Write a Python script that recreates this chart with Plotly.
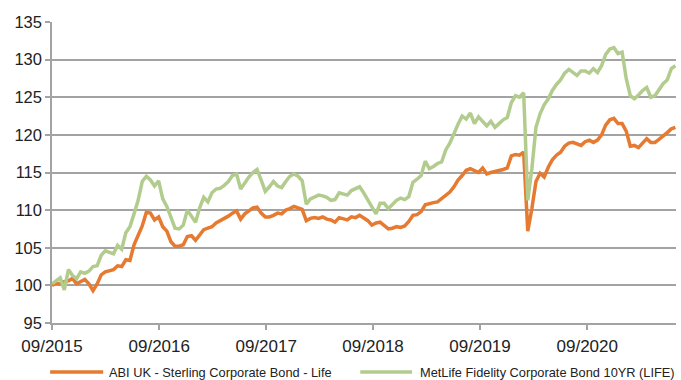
import pandas as pd
import plotly.graph_objects as go

# Fortnightly index values (base 100 at September 2015)
start_date = "2015-09-01"

abi_values = [
    100.0, 100.3, 100.2, 100.5, 100.6, 100.9, 100.2, 100.5, 100.8, 100.2,
    99.3, 100.2, 101.4, 101.8, 102.0, 102.1, 102.6, 102.5, 103.4, 103.3,
    105.4, 106.8, 107.9, 109.7, 109.6, 108.7, 109.1, 107.8, 107.2, 105.8,
    105.2, 105.2, 105.4, 106.5, 106.6, 106.0, 106.8, 107.4, 107.6, 107.8,
    108.3, 108.6, 108.8, 109.2, 109.6, 109.9, 108.8, 109.5, 109.9, 110.3,
    110.4, 109.6, 109.1, 109.1, 109.3, 109.6, 109.5, 110.0, 110.2, 110.5,
    110.3, 110.1, 108.6, 108.9, 109.0, 108.9, 109.1, 108.8, 108.7, 108.4,
    109.0, 108.8, 108.7, 109.1, 109.0, 109.3, 109.0, 108.6, 108.0, 108.3,
    108.4, 107.9, 107.5, 107.6, 107.8, 107.7, 107.9, 108.5, 109.3, 109.4,
    109.8, 110.7, 110.9, 111.0, 111.1, 111.5, 111.9, 112.4, 113.1, 114.0,
    114.6, 115.3, 115.5, 115.3, 115.0, 115.6, 114.8, 115.0, 115.1, 115.3,
    115.4, 115.6, 117.2, 117.4, 117.3, 117.7, 107.2, 110.2, 113.8, 114.9,
    114.4, 115.7, 116.7, 117.3, 117.7, 118.5, 118.9, 119.0, 118.8, 118.6,
    119.1, 119.3, 119.0, 119.3, 120.0, 121.3, 122.0, 122.2, 121.5, 121.5,
    120.5, 118.5, 118.6, 118.3, 118.9, 119.5, 119.0, 119.0, 119.4, 119.8,
    120.3, 120.8, 121.0,
]

metlife_values = [
    100.2, 100.6, 101.0, 99.4, 102.1, 101.3, 100.9, 101.8, 101.6, 101.9,
    102.5, 102.6, 104.0, 104.6, 104.4, 104.2, 105.3, 104.8, 107.0, 107.8,
    109.5, 111.3, 113.8, 114.5, 114.0, 113.2, 113.9, 111.5, 110.5, 108.9,
    107.6, 107.5, 108.0, 110.0, 109.2, 108.4, 110.3, 111.7, 111.1, 112.3,
    112.8, 112.9, 113.3, 113.8, 114.6, 114.8, 112.8, 113.7, 114.4, 115.0,
    115.4, 114.0, 112.5, 113.1, 113.8, 113.2, 113.0, 113.8, 114.5, 114.8,
    114.5, 113.9, 110.8, 111.5, 111.8, 112.0, 111.9, 111.7, 111.3, 111.4,
    112.3, 112.2, 112.0, 112.6, 112.8, 113.1, 112.3, 111.4, 110.5, 109.5,
    110.9, 110.9, 110.2, 110.8, 111.3, 111.6, 111.4, 111.8, 113.7, 114.1,
    114.6, 116.5, 115.5, 115.8, 116.2, 116.4, 118.0, 118.9, 120.3, 121.4,
    122.5, 122.1, 122.9, 121.5, 122.4, 121.8, 121.2, 121.8, 121.0, 121.5,
    122.0, 122.3, 124.3, 125.2, 125.0, 125.6, 111.3, 115.5, 121.0, 122.8,
    124.0, 124.8, 125.9, 126.7, 127.3, 128.2, 128.7, 128.3, 127.9, 128.5,
    128.5, 128.2, 128.8, 128.3, 129.2, 130.7, 131.4, 131.6, 130.8, 131.0,
    127.5, 125.2, 124.8, 125.3, 125.9, 126.3, 125.0, 125.2, 126.0, 126.8,
    127.3, 128.8, 129.2,
]

dates = pd.date_range(start_date, periods=len(abi_values), freq="14D")

tick_dates = ["2015-09-01", "2016-09-01", "2017-09-01",
              "2018-09-01", "2019-09-01", "2020-09-01"]
tick_labels = ["09/2015", "09/2016", "09/2017", "09/2018", "09/2019", "09/2020"]

series_names = ["ABI UK - Sterling Corporate Bond - Life",
                "MetLife Fidelity Corporate Bond 10YR (LIFE)"]

ORANGE = "#E57A30"
GREEN = "#B2CC8E"
GRID = "#A3A3A3"
TEXT = "#222222"
FONT = "Liberation Sans, Arial, sans-serif"

fig = go.Figure()
fig.add_trace(go.Scatter(x=dates, y=abi_values, mode="lines", name=series_names[0],
                         line=dict(color=ORANGE, width=3.5)))
fig.add_trace(go.Scatter(x=dates, y=metlife_values, mode="lines", name=series_names[1],
                         line=dict(color=GREEN, width=3.5)))

# Legend drawn below the plot: a short line sample followed by the series name
legend_y = -0.163
legend_items = [
    (series_names[0], ORANGE, -0.003, 0.082, 0.088),
    (series_names[1], GREEN, 0.494, 0.577, 0.587),
]
for name, color, x0, x1, xt in legend_items:
    fig.add_shape(type="line", xref="paper", yref="paper",
                  x0=x0, x1=x1, y0=legend_y, y1=legend_y,
                  line=dict(color=color, width=3.5))
    fig.add_annotation(xref="paper", yref="paper", x=xt, y=legend_y,
                       xanchor="left", yanchor="middle", showarrow=False,
                       text=name, font=dict(size=12.8, family=FONT, color=TEXT))

fig.update_layout(
    width=681, height=380,
    margin=dict(l=52, r=5, t=22, b=57),
    paper_bgcolor="white", plot_bgcolor="white",
    font=dict(family=FONT, color=TEXT),
    showlegend=False,
    xaxis=dict(
        range=["2015-09-01", "2021-07-01"], automargin=False,
        tickmode="array", tickvals=tick_dates, ticktext=tick_labels,
        tickfont=dict(size=17), ticks="outside", ticklen=5, tickcolor=GRID,
        tickwidth=1.5, showline=True, linecolor=GRID, linewidth=1.5,
        showgrid=False, zeroline=False, ticklabelstandoff=2,
    ),
    yaxis=dict(
        range=[95, 135], dtick=5, tick0=95, automargin=False,
        tickfont=dict(size=16.5), ticks="outside", ticklen=5, tickcolor=GRID,
        tickwidth=1.5, showline=True, linecolor=GRID, linewidth=1.5,
        showgrid=True, gridcolor=GRID, gridwidth=1.5, zeroline=False,
    ),
)

fig.write_html("out.html")
